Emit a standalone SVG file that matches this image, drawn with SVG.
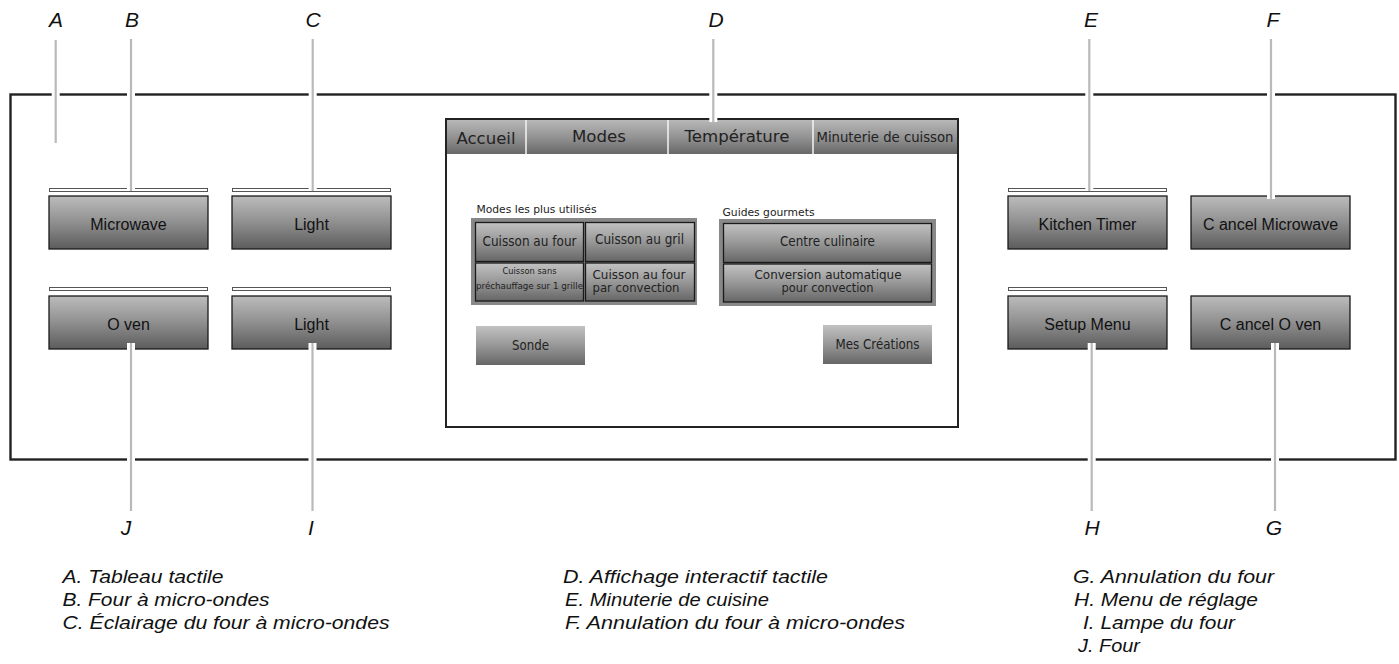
<svg xmlns="http://www.w3.org/2000/svg" width="1399" height="664" viewBox="0 0 1399 664">
<defs>
<linearGradient id="gBtn" x1="0" y1="0" x2="0" y2="1">
<stop offset="0" stop-color="#bcbcbc"/><stop offset="0.5" stop-color="#8f8f8f"/><stop offset="1" stop-color="#5c5c5c"/>
</linearGradient>
<linearGradient id="gTab" x1="0" y1="0" x2="0" y2="1">
<stop offset="0" stop-color="#b8b8b8"/><stop offset="0.5" stop-color="#939393"/><stop offset="1" stop-color="#686868"/>
</linearGradient>
<linearGradient id="gDisp" x1="0" y1="0" x2="0" y2="1">
<stop offset="0" stop-color="#c2c2c2"/><stop offset="0.5" stop-color="#979797"/><stop offset="1" stop-color="#666666"/>
</linearGradient>
</defs>
<style>
.frame{fill:none;stroke:#222;stroke-width:2.4}
.pbtn{fill:url(#gBtn);stroke:#1a1a1a;stroke-width:1.3}
.bar{fill:#fff;stroke:#555;stroke-width:1}
.pt{font-family:"Liberation Sans",Arial,sans-serif;font-size:16px;fill:#111;text-anchor:middle}
.dt{font-family:"DejaVu Sans",Verdana,sans-serif;fill:#222;text-anchor:middle}
.grp{fill:#888}
.dbtn{fill:url(#gDisp);stroke:#1a1a1a;stroke-width:1.3}
.sbtn{fill:url(#gDisp)}
.halo{stroke:#fff;stroke-width:8;fill:none}
.ld{stroke:#b9b9b9;stroke-width:2.2;fill:none}
.lt{font-family:"Liberation Sans",Arial,sans-serif;font-style:italic;font-size:21px;fill:#111;text-anchor:middle}
.lg{font-family:"Liberation Sans",Arial,sans-serif;font-style:italic;font-size:19px;fill:#111}
</style>

<g id="panel">
<rect class="frame" x="10.5" y="94.5" width="1385" height="365"/>
</g>

<g id="btn-microwave">
<rect class="bar" x="49.5" y="188.5" width="158" height="3"/>
<rect class="pbtn" x="49" y="196" width="159" height="53"/>
<text class="pt" x="128.5" y="230">Microwave</text>
</g>
<g id="btn-light1">
<rect class="bar" x="232.5" y="188.5" width="158" height="3"/>
<rect class="pbtn" x="232" y="196" width="159" height="53"/>
<text class="pt" x="311.5" y="230">Light</text>
</g>
<g id="btn-oven">
<rect class="bar" x="49.5" y="287.5" width="158" height="3"/>
<rect class="pbtn" x="49" y="296" width="159" height="53"/>
<text class="pt" x="128.5" y="330">O ven</text>
</g>
<g id="btn-light2">
<rect class="bar" x="232.5" y="287.5" width="158" height="3"/>
<rect class="pbtn" x="232" y="296" width="159" height="53"/>
<text class="pt" x="311.5" y="330">Light</text>
</g>
<g id="btn-kitchen-timer">
<rect class="bar" x="1008.5" y="188.5" width="158" height="3"/>
<rect class="pbtn" x="1008" y="196" width="159" height="53"/>
<text class="pt" x="1087.5" y="230">Kitchen Timer</text>
</g>
<g id="btn-cancel-microwave">
<rect class="pbtn" x="1191" y="196" width="159" height="53"/>
<text class="pt" x="1270.5" y="230">C ancel Microwave</text>
</g>
<g id="btn-setup-menu">
<rect class="bar" x="1008.5" y="287.5" width="158" height="3"/>
<rect class="pbtn" x="1008" y="296" width="159" height="53"/>
<text class="pt" x="1087.5" y="330">Setup Menu</text>
</g>
<g id="btn-cancel-oven">
<rect class="pbtn" x="1191" y="296" width="159" height="53"/>
<text class="pt" x="1270.5" y="330">C ancel O ven</text>
</g>

<g id="display">
<rect x="446" y="119" width="512" height="308" fill="#fff" stroke="#222" stroke-width="2"/>
<rect x="447" y="120" width="510" height="34" fill="url(#gTab)"/>
<line x1="526" y1="120" x2="526" y2="154" stroke="#f4f4f4" stroke-width="1.5"/>
<line x1="668" y1="120" x2="668" y2="154" stroke="#f4f4f4" stroke-width="1.5"/>
<line x1="813" y1="120" x2="813" y2="154" stroke="#f4f4f4" stroke-width="1.5"/>
<text class="dt" x="486" y="144" font-size="16.5" textLength="59" lengthAdjust="spacingAndGlyphs">Accueil</text>
<text class="dt" x="599" y="142" font-size="16.5" textLength="54" lengthAdjust="spacingAndGlyphs">Modes</text>
<text class="dt" x="737" y="142" font-size="16.5" textLength="105" lengthAdjust="spacingAndGlyphs">Température</text>
<text class="dt" x="885" y="142" font-size="13.5" textLength="137" lengthAdjust="spacingAndGlyphs">Minuterie de cuisson</text>

<text class="dt" x="476.5" y="213" font-size="11" style="text-anchor:start" textLength="120" lengthAdjust="spacingAndGlyphs">Modes les plus utilisés</text>
<rect class="grp" x="471" y="218" width="226" height="87"/>
<rect class="dbtn" x="475.5" y="222.5" width="108" height="39"/>
<rect class="dbtn" x="585.5" y="222.5" width="109" height="39"/>
<rect class="dbtn" x="475.5" y="263" width="108" height="38"/>
<rect class="dbtn" x="585.5" y="263" width="109" height="38"/>
<text class="dt" x="529.5" y="245.5" font-size="13.5" textLength="94" lengthAdjust="spacingAndGlyphs">Cuisson au four</text>
<text class="dt" x="639.5" y="243.5" font-size="13.5" textLength="89" lengthAdjust="spacingAndGlyphs">Cuisson au gril</text>
<text class="dt" x="529.5" y="274" font-size="9" textLength="54" lengthAdjust="spacingAndGlyphs">Cuisson sans</text>
<text class="dt" x="529.5" y="288.5" font-size="9" textLength="107" lengthAdjust="spacingAndGlyphs">préchauffage sur 1 grille</text>
<text class="dt" x="592.5" y="278.5" font-size="12.5" style="text-anchor:start" textLength="93" lengthAdjust="spacingAndGlyphs">Cuisson au four</text>
<text class="dt" x="592.5" y="291.5" font-size="12.5" style="text-anchor:start" textLength="87" lengthAdjust="spacingAndGlyphs">par convection</text>

<text class="dt" x="722.5" y="216" font-size="11" style="text-anchor:start" textLength="92" lengthAdjust="spacingAndGlyphs">Guides gourmets</text>
<rect class="grp" x="719" y="219" width="217" height="87"/>
<rect class="dbtn" x="723.5" y="223.5" width="208" height="39"/>
<rect class="dbtn" x="723.5" y="264" width="208" height="38"/>
<text class="dt" x="827.5" y="245.5" font-size="13.5" textLength="95" lengthAdjust="spacingAndGlyphs">Centre culinaire</text>
<text class="dt" x="828" y="278.5" font-size="12.5" textLength="147" lengthAdjust="spacingAndGlyphs">Conversion automatique</text>
<text class="dt" x="827.5" y="291.5" font-size="12.5" textLength="92" lengthAdjust="spacingAndGlyphs">pour convection</text>

<rect class="sbtn" x="476" y="326" width="109" height="39"/>
<text class="dt" x="530.5" y="349.5" font-size="13.5" textLength="37" lengthAdjust="spacingAndGlyphs">Sonde</text>
<rect class="sbtn" x="823" y="325" width="109" height="39"/>
<text class="dt" x="877.5" y="348.5" font-size="13.5" textLength="84" lengthAdjust="spacingAndGlyphs">Mes Créations</text>
</g>

<g id="connectors">
<path class="halo" d="M55.7 40V143M131 39V191M312.7 39V191M713.3 39V122M1089.3 39V191M1271 39V199M131 343V511M312.5 343V511M1091.7 343V511M1275 343V511"/>
<path class="ld" d="M55.7 40V143M131 39V191M312.7 39V191M713.3 39V122M1089.3 39V191M1271 39V199M131 343V511M312.5 343V511M1091.7 343V511M1275 343V511"/>
</g>

<g id="callout-letters">
<text class="lt" x="56" y="27">A</text>
<text class="lt" x="132" y="27">B</text>
<text class="lt" x="313" y="27">C</text>
<text class="lt" x="716" y="27">D</text>
<text class="lt" x="1091" y="27">E</text>
<text class="lt" x="1273" y="27">F</text>
<text class="lt" x="126" y="535">J</text>
<text class="lt" x="311" y="535">I</text>
<text class="lt" x="1092" y="535">H</text>
<text class="lt" x="1274" y="535">G</text>
</g>

<g id="legend">
<text class="lg" x="62.5" y="583" textLength="161" lengthAdjust="spacingAndGlyphs">A. Tableau tactile</text>
<text class="lg" x="62.5" y="606" textLength="207" lengthAdjust="spacingAndGlyphs">B. Four à micro-ondes</text>
<text class="lg" x="62.5" y="629" textLength="327" lengthAdjust="spacingAndGlyphs">C. Éclairage du four à micro-ondes</text>
<text class="lg" x="563" y="583" textLength="265" lengthAdjust="spacingAndGlyphs">D. Affichage interactif tactile</text>
<text class="lg" x="565" y="606" textLength="204" lengthAdjust="spacingAndGlyphs">E. Minuterie de cuisine</text>
<text class="lg" x="565" y="629" textLength="340" lengthAdjust="spacingAndGlyphs">F. Annulation du four à micro-ondes</text>
<text class="lg" x="1073" y="583" textLength="201" lengthAdjust="spacingAndGlyphs">G. Annulation du four</text>
<text class="lg" x="1074" y="606" textLength="184" lengthAdjust="spacingAndGlyphs">H. Menu de réglage</text>
<text class="lg" x="1083" y="629" textLength="152" lengthAdjust="spacingAndGlyphs">I. Lampe du four</text>
<text class="lg" x="1078" y="652" textLength="62" lengthAdjust="spacingAndGlyphs">J. Four</text>
</g>
</svg>
